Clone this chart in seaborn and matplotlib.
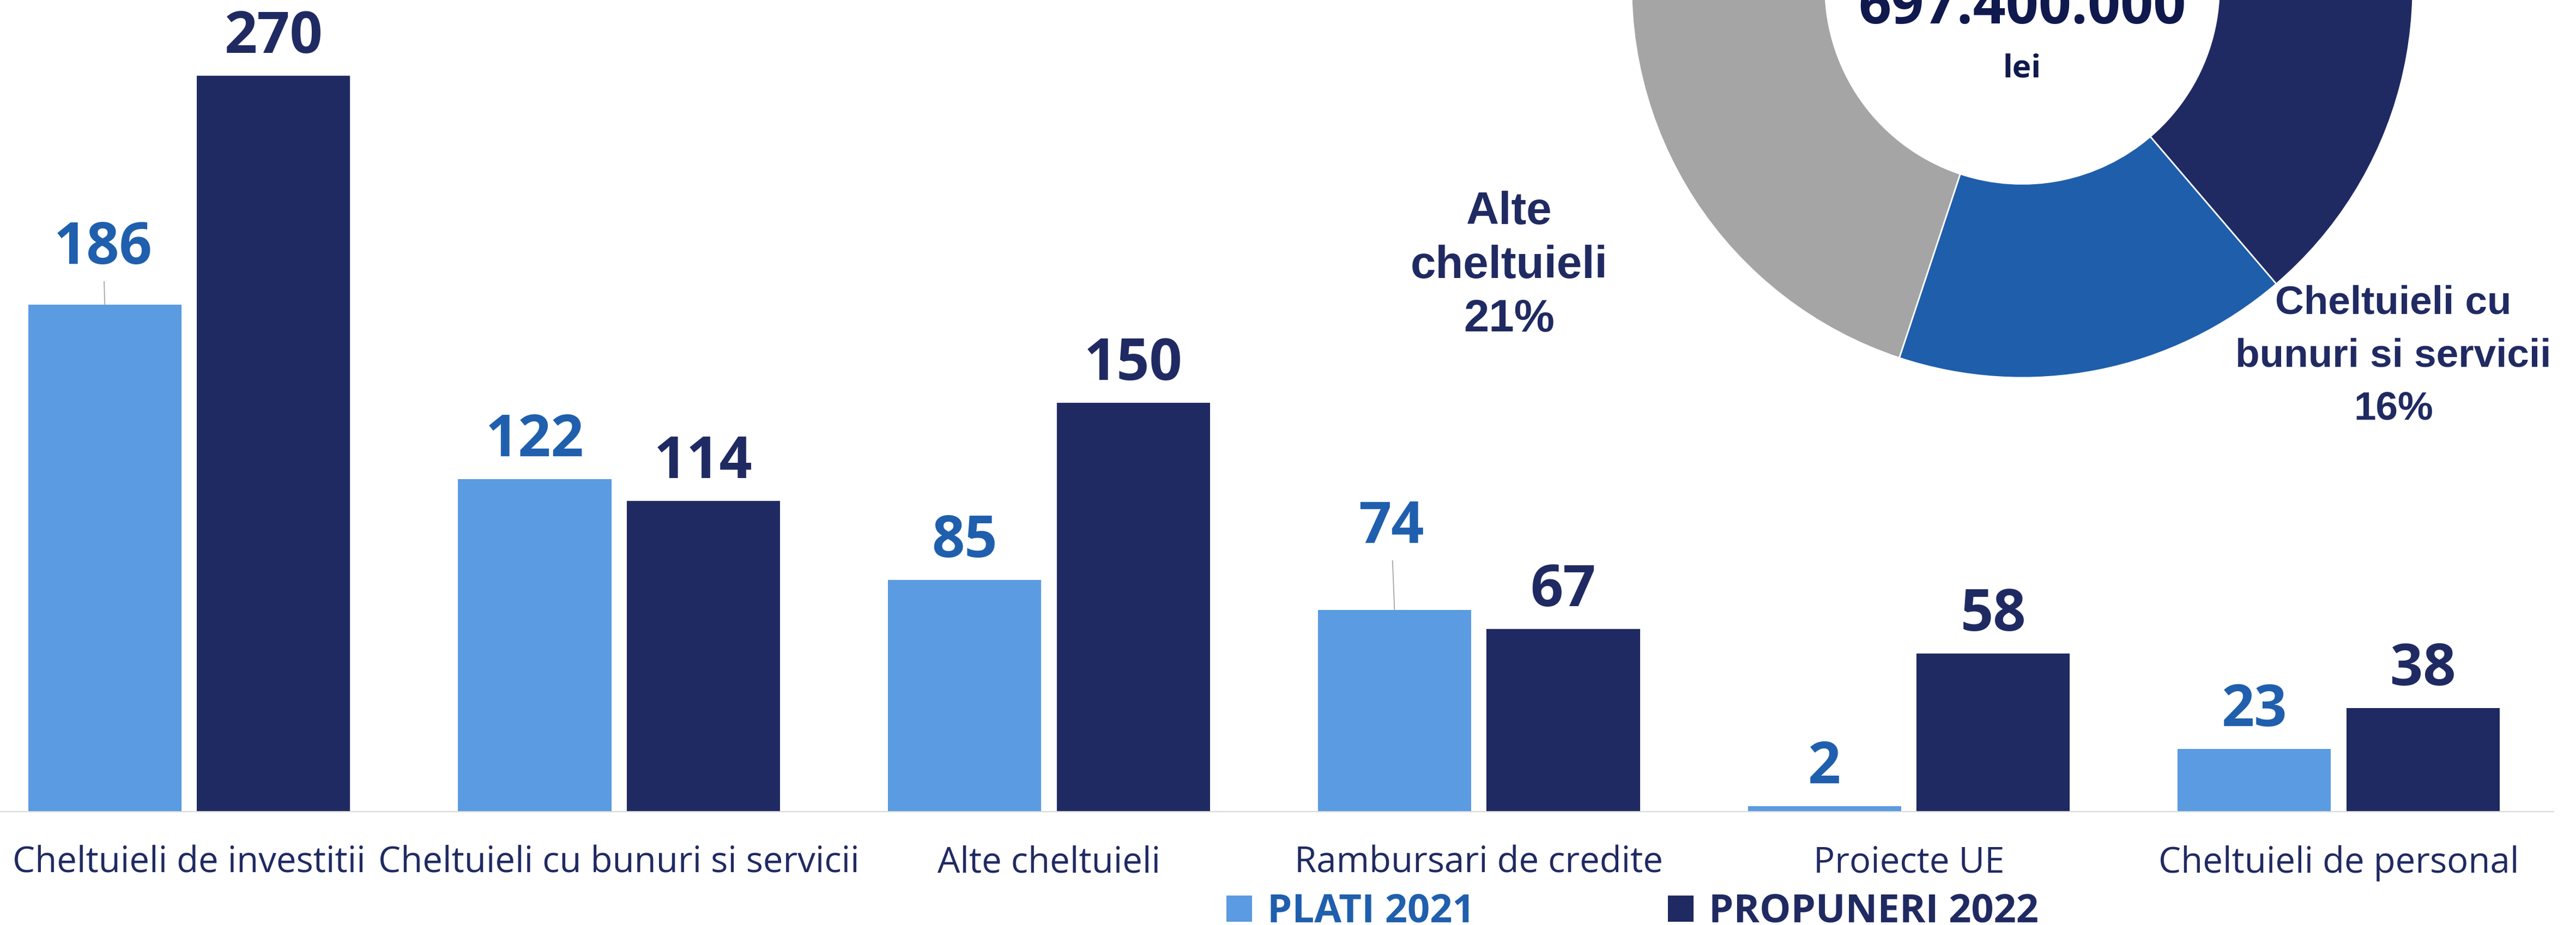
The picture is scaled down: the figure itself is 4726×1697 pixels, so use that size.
import pandas as pd
import matplotlib.pyplot as plt
import seaborn as sns
from matplotlib.patches import Patch

# date
categorii = ['Cheltuieli de investitii', 'Cheltuieli cu bunuri si servicii', 'Alte cheltuieli',
             'Rambursari de credite', 'Proiecte UE', 'Cheltuieli de personal']
plati_2021 = [186, 122, 85, 74, 2, 23]
propuneri_2022 = [270, 114, 150, 67, 58, 38]
serii = ['PLATI 2021', 'PROPUNERI 2022']

total_text = '697.400.000'
unitate = 'lei'
# etichetele vizibile ale inelului (index felie -> text, procent citit)
etichete_donut = {1: 'Cheltuieli cu\nbunuri si servicii', 2: 'Alte\ncheltuieli'}
procente_donut = {1: 16, 2: 21}

culori_bare = ['#5B9BE1', '#202A62']
culori_text = ['#1F5FAD', '#202A62']
culori_donut = ['#202A62', '#1F5EAB', '#A5A5A5', '#5B9BD5', '#264478', '#7F7F7F']
navy = '#202A62'

sns.set_style('white')
plt.rcParams['font.family'] = ['Open Sans', 'DejaVu Sans']

W, H = 4726, 1697
fig = plt.figure(figsize=(W / 100, H / 100), dpi=100)
fig.patch.set_facecolor('white')

# --- bare grupate ---
ax = fig.add_axes([0, 208 / H, 4685 / W, 1 - 208 / H])
df = pd.DataFrame({
    'categorie': categorii * 2,
    'serie': [serii[0]] * len(categorii) + [serii[1]] * len(categorii),
    'valoare': plati_2021 + propuneri_2022,
})
sns.barplot(data=df, x='categorie', y='valoare', hue='serie', palette=culori_bare,
            saturation=1, width=0.785, gap=0.092, linewidth=0, errorbar=None,
            legend=False, ax=ax)
ax.set_xlim(-0.44, 5.5)
ax.set_ylim(0, 1489 / 5.0)
ax.set_xlabel('')
ax.set_ylabel('')
ax.set_yticks([])
sns.despine(ax=ax, left=True)
ax.spines['bottom'].set_color('#D9D9D9')
ax.spines['bottom'].set_linewidth(1.5)
ax.tick_params(axis='x', length=0, pad=44, labelsize=47, labelcolor=navy)

# etichete cu linie de legatura (deplasare in px)
ridicare = {(0, 0): (-3, 33), (0, 3): (-6, 81)}
for s, cont in enumerate(ax.containers):
    for i, bar in enumerate(cont):
        val = bar.get_height()
        x = bar.get_x() + bar.get_width() / 2
        dx, dy = ridicare.get((s, i), (0, 0))
        arrow = None
        if (s, i) in ridicare:
            arrow = dict(arrowstyle='-', color='#A6A6A6', lw=1.3, shrinkA=3, shrinkB=0)
        ax.annotate(f'{val:.0f}', xy=(x, val), xytext=(dx * 0.72, (42 + dy) * 0.72),
                    textcoords='offset points', ha='center', va='baseline',
                    fontsize=76, fontweight='bold', color=culori_text[s],
                    arrowprops=arrow, annotation_clip=False)

# --- inel ---
R = 717
cx, cy = 3710, -24
axp = fig.add_axes([(cx - R) / W, (H - cy - R) / H, 2 * R / W, 2 * R / H])
axp.pie(propuneri_2022, colors=culori_donut, startangle=90, counterclock=False,
        wedgeprops=dict(width=0.496, edgecolor='white', linewidth=2))
axp.set_xlim(-1, 1)
axp.set_ylim(-1, 1)
axp.set_aspect('equal')
axp.axis('off')

axp.text(0, -67 / R, total_text, ha='center', va='baseline', fontsize=76,
         fontweight='bold', color='#10194D')
axp.text(0, -166 / R, unitate, ha='center', va='baseline', fontsize=42,
         fontweight='bold', color='#10194D')

# pozitie = linia de baza a ultimului rand
poz_etichete = {1: (0.950, -1.107, 52.5, 1.55), 2: (-1.313, -0.881, 60, 1.33)}
for k, txt in etichete_donut.items():
    px, py, fs, ls = poz_etichete[k]
    axp.text(px, py, f'{txt}\n{procente_donut[k]}%', ha='center', va='baseline',
             multialignment='center', fontsize=fs, fontweight='bold', color=navy,
             family=['Liberation Sans', 'DejaVu Sans'], linespacing=ls)

# --- legenda ---
handles = [Patch(facecolor=c, edgecolor='none') for c in culori_bare]
leg = fig.legend(handles, serii, loc='lower left', bbox_to_anchor=(2250 / W, -12 / H),
                 ncol=2, frameon=False, prop=dict(family='Open Sans', weight='bold', size=52),
                 handlelength=0.65, handleheight=0.65, handletextpad=0.39,
                 columnspacing=4.9, borderpad=0, borderaxespad=0)
for t, c in zip(leg.get_texts(), culori_text):
    t.set_color(c)

fig.savefig('out.png', dpi=100)
